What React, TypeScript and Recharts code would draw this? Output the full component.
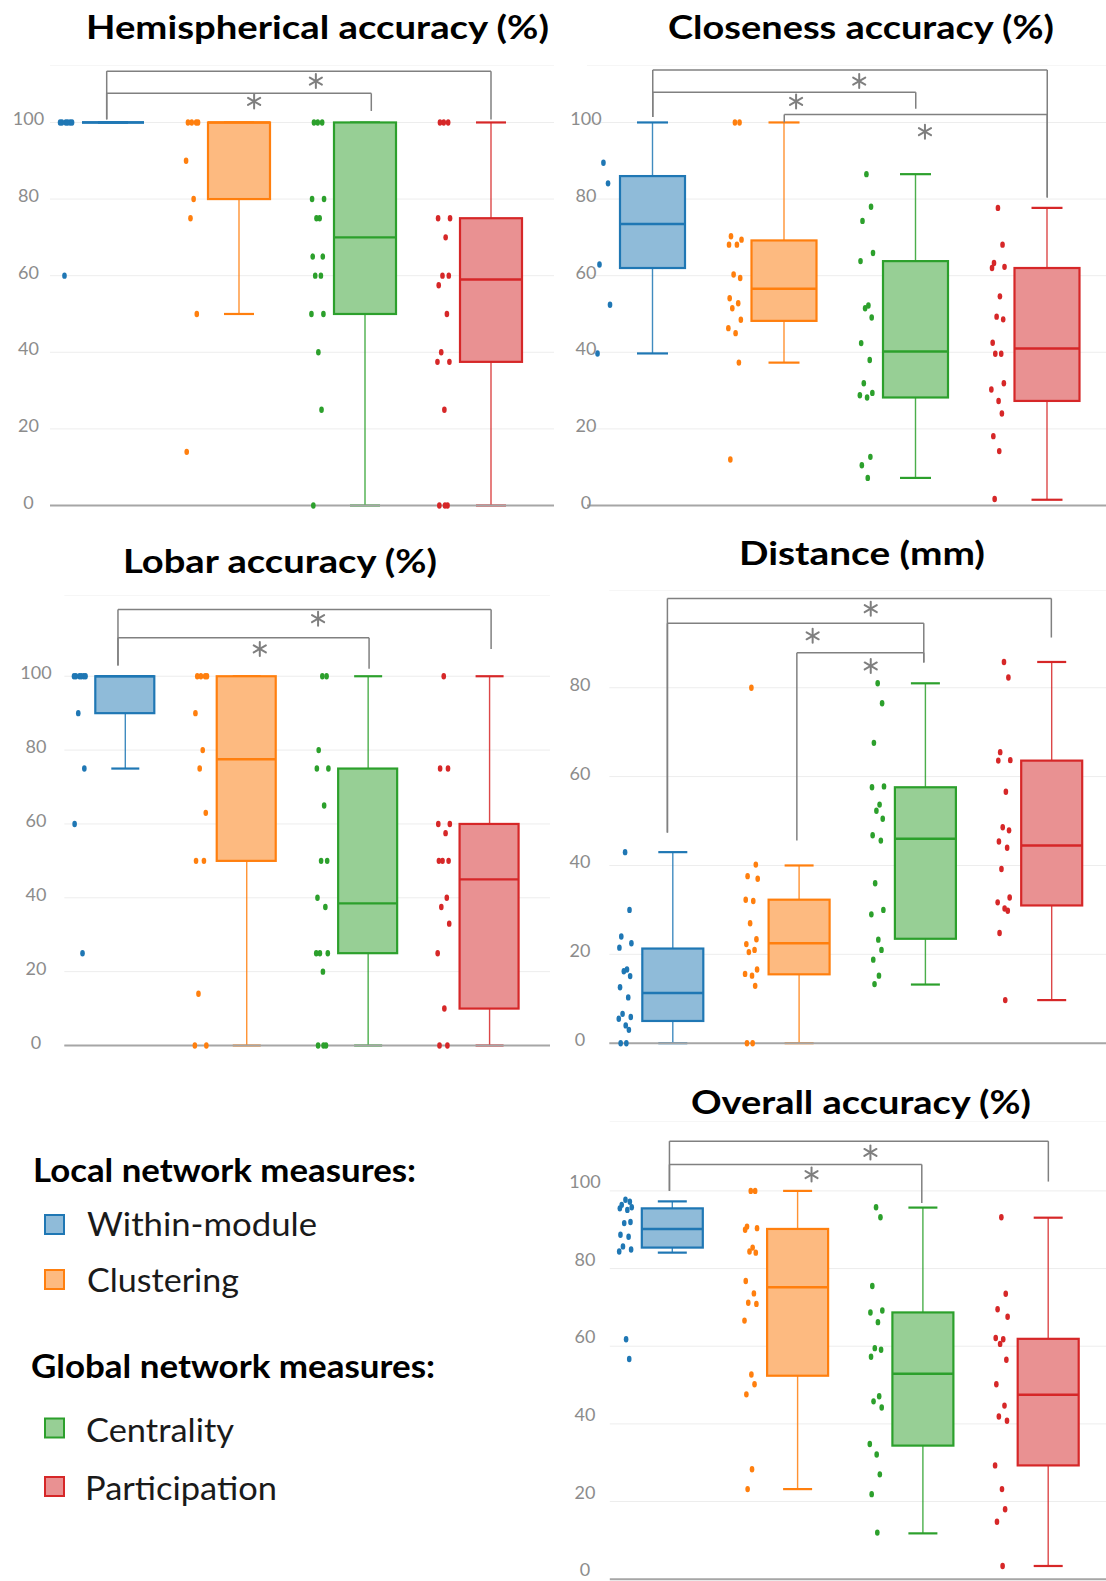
import React from "react";
import {
  ComposedChart,
  Bar,
  Scatter,
  XAxis,
  YAxis,
  CartesianGrid,
  ReferenceLine,
} from "recharts";

const GROUPS = ["Within-module", "Clustering", "Centrality", "Participation"];
const COLORS = ["#1f77b4", "#ff7f0e", "#2ca02c", "#d62728"];
const FILLS = ["#8fbbd9", "#fdba80", "#97cf95", "#e99192"];

// Hemispherical accuracy (%)
const hemiMin = [100, 50, 0, 0];
const hemiQ1 = [100, 80, 50, 37.5];
const hemiMed = [100, 100, 70, 59];
const hemiQ3 = [100, 100, 100, 75];
const hemiMax = [100, 100, 100, 100];
const hemiDots = [
  [100, 100, 100, 100, 100, 100, 60],
  [100, 100, 100, 100, 90, 80, 75, 50, 14],
  [100, 100, 100, 80, 80, 75, 75, 65, 65, 60, 60, 50, 50, 40, 25, 0],
  [100, 100, 100, 75, 75, 70, 60, 60, 57.5, 50, 40, 37.5, 37.5, 25, 0, 0, 0],
];
// [from group, to group, level, left leg end, right leg end]
const hemiBrackets = [
  [-0.05, 3, 113.4, 100.8, 100.8],
  [-0.05, 2.05, 107.6, 100.8, 103],
];
const hemiStars = [
  [1.61, 110.8],
  [1.12, 105.5],
];

// Closeness accuracy (%)
const closeMin = [39.7, 37.3, 7.2, 1.5];
const closeQ1 = [62, 48.2, 28.2, 27.3];
const closeMed = [73.5, 56.6, 40.2, 41];
const closeQ3 = [86, 69.2, 63.8, 62];
const closeMax = [100, 100, 86.5, 77.7];
const closeDots = [
  [89.5, 84.1, 62.9, 52.4, 39.7],
  [100, 100, 70.3, 69.4, 68.1, 68.1, 60.3, 59.4, 54.1, 52.8, 51.5, 48.5, 46.3, 45, 37.3, 12],
  [86.5, 78, 74.3, 65.9, 63.8, 52.2, 51.5, 49.1, 42.4, 38, 31.9, 29.4, 28.8, 28.2, 12.7, 10.5, 7.2],
  [77.7, 68.1, 63.3, 62.3, 62, 54.6, 49.3, 48.6, 42.5, 39.6, 39.6, 31.9, 30.3, 27.3, 24, 18.1, 14.2, 1.7],
];
const closeBrackets = [
  [0, 3, 113.7, 101.4, 80.4],
  [0, 2, 107.9, 101.4, 103.6],
  [1, 3, 102.1, 100, 80.4],
];
const closeStars = [
  [1.57, 110.8],
  [1.09, 105.5],
  [2.07, 97.6],
];

// Lobar accuracy (%)
const lobarMin = [75, 0, 0, 0];
const lobarQ1 = [90, 50, 25, 10];
const lobarMed = [100, 77.5, 38.5, 45];
const lobarQ3 = [100, 100, 75, 60];
const lobarMax = [100, 100, 100, 100];
const lobarDots = [
  [100, 100, 100, 100, 100, 100, 90, 75, 60, 25],
  [100, 100, 100, 100, 90, 80, 75, 63, 50, 50, 14, 0, 0],
  [100, 100, 80, 75, 75, 65, 50, 50, 40, 37.5, 25, 25, 25, 20, 0, 0, 0],
  [100, 75, 75, 60, 60, 57.5, 50, 50, 50, 40, 37.5, 33, 25, 10, 0, 0],
];
const lobarBrackets = [
  [-0.058, 3.015, 118.1, 102.9, 107.4],
  [-0.058, 2.01, 110.4, 102.9, 102],
];
const lobarStars = [
  [1.59, 115.6],
  [1.11, 107.4],
];

// Distance (mm)
const distMin = [0, 0, 13.2, 9.7];
const distQ1 = [5, 15.5, 23.5, 31];
const distMed = [11.3, 22.5, 46, 44.5];
const distQ3 = [21.3, 32.3, 57.6, 63.6];
const distMax = [43, 40, 81, 85.8];
const distDots = [
  [43, 30, 24, 22.5, 21.5, 16.6, 16.2, 15.1, 12.6, 10.3, 6.6, 5.9, 5.5, 4, 3, 0, 0],
  [80, 40.2, 37.6, 37, 32.3, 32, 27, 23.4, 22.3, 21, 20.5, 16.6, 15.6, 15.2, 12.9, 0, 0],
  [81, 76.5, 67.6, 57.8, 57.6, 53.7, 52.3, 50.5, 46.8, 45.6, 36, 30, 29, 23.3, 21, 18.8, 15.2, 13.3],
  [85.8, 82.3, 65.5, 63.7, 63.6, 56.6, 48.6, 47.9, 45.4, 44, 39.2, 32.8, 31.7, 30.3, 29.8, 24.8, 9.7],
];
const distBrackets = [
  [-0.04, 3, 100.1, 47.4, 91.3],
  [-0.04, 1.99, 94.5, 47.4, 85.7],
  [0.985, 1.99, 87.9, 45.6, 85.7],
];
const distStars = [
  [1.57, 97.8],
  [1.11, 91.7],
  [1.57, 84.9],
];

// Overall accuracy (%)
const overMin = [84.1, 23.2, 11.8, 3.4];
const overQ1 = [85.4, 52.4, 34.4, 29.3];
const overMed = [90.2, 75.2, 52.9, 47.5];
const overQ3 = [95.5, 90.2, 68.7, 61.9];
const overMax = [97.3, 100, 95.7, 93.1];
const overDots = [
  [97.7, 97.2, 96.4, 95.8, 95.5, 95.1, 91.7, 92, 88.7, 88.2, 85.7, 84.9, 84.4, 61.8, 56.7],
  [100, 100, 90.8, 90.4, 90, 85.4, 84.4, 84.1, 76.8, 73.6, 71.2, 70.9, 66.6, 52.7, 50.2, 47.6, 28.3, 23.2],
  [95.8, 93.2, 75.5, 69.2, 68.7, 66.2, 59.5, 59.1, 57.3, 47.1, 45.8, 44.2, 34.8, 32.1, 27, 21.9, 12],
  [93.2, 73.5, 69.5, 67.6, 62.1, 61.8, 60.6, 56.5, 50.2, 44.7, 41.9, 40.8, 29.3, 23.2, 18, 14.8, 3.4],
];
const overBrackets = [
  [-0.024, 3, 112.8, 100, 102.4],
  [-0.024, 1.99, 106.8, 100, 96.9],
];
const overStars = [
  [1.58, 109.9],
  [1.11, 104.2],
];

const pctTicks = [0, 20, 40, 60, 80, 100];
const mmTicks = [0, 20, 40, 60, 80];

// horizontal spread of the raw points, left of each box
const DOT_SHIFT = 0.375;
const JITTER = [0, 0.035, -0.03, 0.05, -0.045, 0.015, -0.01, 0.04, -0.04, 0.025, -0.02, 0.045, -0.05, 0.005, 0.03, -0.035, 0.01, -0.025];

const FONT = "Lato, 'Open Sans', sans-serif";
const BOTTOM = 14;

type Frame = {
  left: number; top: number; width: number; plotH: number;
  yw: number; labelX: number; labelDy: number; boxW: number;
};

function colorIndex(props: any) {
  const i = GROUPS.indexOf(props?.payload?.name);
  return i >= 0 ? i : props.index ?? 0;
}

function WhiskerShape(props: any) {
  const { x, y, width, height } = props;
  const i = colorIndex(props);
  const top = Math.min(y, y + height);
  const bot = Math.max(y, y + height);
  const cx = x + width / 2;
  return (
    <g>
      <line x1={cx} x2={cx} y1={top} y2={bot} stroke={COLORS[i]} strokeWidth={1.4} strokeOpacity={0.85} />
      <line x1={x} x2={x + width} y1={top} y2={top} stroke={COLORS[i]} strokeWidth={2.2} />
      <line x1={x} x2={x + width} y1={bot} y2={bot} stroke={COLORS[i]} strokeWidth={2.2} />
    </g>
  );
}

function BoxShape(props: any) {
  const { x, y, width, height } = props;
  const i = colorIndex(props);
  const top = Math.min(y, y + height);
  const h = Math.abs(height);
  if (h < 0.5)
    return <line x1={x} x2={x + width} y1={top} y2={top} stroke={COLORS[i]} strokeWidth={2.2} />;
  return <rect x={x} y={top} width={width} height={h} fill={FILLS[i]} stroke={COLORS[i]} strokeWidth={2.2} />;
}

function MedianShape(props: any) {
  const { x, y, width, height } = props;
  const i = colorIndex(props);
  const top = Math.min(y, y + height);
  return <line x1={x} x2={x + width} y1={top} y2={top} stroke={COLORS[i]} strokeWidth={2.4} />;
}

function StarShape(props: any) {
  const { cx, cy } = props;
  const r = 7;
  const s = r * Math.sin(Math.PI / 3);
  const c = r * Math.cos(Math.PI / 3);
  return (
    <g stroke="#7f7f7f" strokeWidth={2} strokeLinecap="round">
      <line x1={cx} x2={cx} y1={cy - r} y2={cy + r} />
      <line x1={cx - s} x2={cx + s} y1={cy - c} y2={cy + c} />
      <line x1={cx - s} x2={cx + s} y1={cy + c} y2={cy - c} />
    </g>
  );
}

function BoxPanel({
  min, q1, med, q3, max, dots, brackets, stars, ticks, yMax, f,
}: {
  min: number[]; q1: number[]; med: number[]; q3: number[]; max: number[];
  dots: number[][]; brackets: number[][]; stars: number[][]; ticks: number[]; yMax: number; f: Frame;
}) {
  const rows = GROUPS.map((name, i) => ({
    name,
    whisk: [min[i], max[i]],
    box: [q1[i], q3[i]],
    med: med[i],
  }));
  const starData = stars.map(([x, y]) => ({ x, y }));
  return (
    <div style={{ position: "absolute", left: f.left, top: f.top }}>
      <ComposedChart
        width={f.width}
        height={f.plotH + 1 + BOTTOM}
        data={rows}
        margin={{ top: 0, right: 0, bottom: BOTTOM, left: 0 }}
      >
        <CartesianGrid vertical={false} stroke="#ededed" strokeWidth={1} />
        <XAxis xAxisId="w" dataKey="name" type="category" hide />
        <XAxis xAxisId="b" dataKey="name" type="category" hide />
        <XAxis xAxisId="m" dataKey="name" type="category" hide />
        <XAxis
          dataKey="x"
          type="number"
          domain={[-0.5, 3.5]}
          height={1}
          tick={false}
          tickLine={false}
          axisLine={{ stroke: "#a6a6a6", strokeWidth: 2 }}
        />
        <YAxis
          type="number"
          domain={[0, yMax]}
          ticks={ticks}
          interval={0}
          width={f.yw}
          axisLine={false}
          tickLine={false}
          tick={(p: any) => (
            <text x={f.labelX} y={p.y} dy={f.labelDy} textAnchor="middle" fill="#8c8c8c" fontSize={18} fontFamily={FONT}>
              {String(p.payload.value)}
            </text>
          )}
        />
        {brackets.map(([x1, x2, y], k) => (
          <ReferenceLine key={"h" + k} segment={[{ x: x1, y }, { x: x2, y }]} stroke="#808080" strokeWidth={1.5} ifOverflow="visible" />
        ))}
        {brackets.map(([x1, , y, l1], k) => (
          <ReferenceLine key={"l" + k} segment={[{ x: x1, y }, { x: x1, y: l1 }]} stroke="#808080" strokeWidth={1.5} ifOverflow="visible" />
        ))}
        {brackets.map(([, x2, y, , l2], k) => (
          <ReferenceLine key={"r" + k} segment={[{ x: x2, y }, { x: x2, y: l2 }]} stroke="#808080" strokeWidth={1.5} ifOverflow="visible" />
        ))}
        <Bar xAxisId="w" dataKey="whisk" barSize={Math.round(f.boxW * 0.48)} shape={WhiskerShape} isAnimationActive={false} />
        <Bar xAxisId="b" dataKey="box" barSize={f.boxW} shape={BoxShape} isAnimationActive={false} />
        <Bar xAxisId="m" dataKey="med" barSize={f.boxW} shape={MedianShape} isAnimationActive={false} />
        {dots.map((vals, i) => (
          <Scatter
            key={"d" + i}
            data={vals.map((v, k) => ({ x: i - DOT_SHIFT + JITTER[k % JITTER.length], y: v }))}
            dataKey="y"
            isAnimationActive={false}
            shape={(p: any) => <ellipse cx={p.cx} cy={p.cy} rx={2.3} ry={3.2} fill={COLORS[i]} />}
          />
        ))}
        <Scatter data={starData} dataKey="y" isAnimationActive={false} shape={StarShape} />
      </ComposedChart>
    </div>
  );
}

const F1: Frame = { left: 0, top: 64.5, width: 554, plotH: 440.5, yw: 50, labelX: 28.5, labelDy: 3, boxW: 62 };
const F2: Frame = { left: 560, top: 64.5, width: 553, plotH: 440.5, yw: 27, labelX: 26, labelDy: 3, boxW: 65 };
const F3: Frame = { left: 0, top: 594.5, width: 550, plotH: 450.5, yw: 64.3, labelX: 36, labelDy: 3, boxW: 59 };
const F4: Frame = { left: 560, top: 589.5, width: 554.5, plotH: 453.2, yw: 49.3, labelX: 20, labelDy: 3, boxW: 61 };
const F5: Frame = { left: 560, top: 1121.1, width: 551, plotH: 458.2, yw: 49.8, labelX: 25, labelDy: -3, boxW: 61 };

function Label({ x, y, w, text, bold, size = 33 }: { x: number; y: number; w: number; text: string; bold?: boolean; size?: number }) {
  return (
    <text
      x={x}
      y={y}
      textLength={w}
      lengthAdjust="spacingAndGlyphs"
      fontFamily={FONT}
      fontWeight={bold ? 700 : 400}
      fontSize={size}
      fill={bold ? "#000" : "#1a1a1a"}
    >
      {text}
    </text>
  );
}

export default function App() {
  return (
    <div style={{ position: "absolute", left: 0, top: 0, width: 1106, height: 1581, overflow: "hidden", background: "#fff" }}>
      <svg width={1106} height={1581} style={{ position: "absolute", left: 0, top: 0 }}>
        <Label x={86} y={38.5} w={463} text="Hemispherical accuracy (%)" bold />
        <Label x={668} y={38.5} w={386} text="Closeness accuracy (%)" bold />
        <Label x={123} y={572.5} w={314} text="Lobar accuracy (%)" bold />
        <Label x={739} y={564.5} w={246} text="Distance (mm)" bold />
        <Label x={691} y={1114} w={340} text="Overall accuracy (%)" bold />

        <Label x={33} y={1181.5} w={383} text="Local network measures:" bold />
        <Label x={31} y={1378} w={404} text="Global network measures:" bold />
        {[1215, 1270, 1418.5, 1477].map((y, i) => (
          <rect key={i} x={45} y={y} width={19} height={19} fill={FILLS[i]} stroke={COLORS[i]} strokeWidth={2} />
        ))}
        <Label x={87} y={1236} w={230} text={GROUPS[0]} />
        <Label x={87} y={1291.5} w={152} text={GROUPS[1]} />
        <Label x={86} y={1441.5} w={148} text={GROUPS[2]} />
        <Label x={85} y={1500} w={192} text={GROUPS[3]} />
      </svg>

      <BoxPanel min={hemiMin} q1={hemiQ1} med={hemiMed} q3={hemiQ3} max={hemiMax} dots={hemiDots}
        brackets={hemiBrackets} stars={hemiStars} ticks={pctTicks} yMax={115} f={F1} />
      <BoxPanel min={closeMin} q1={closeQ1} med={closeMed} q3={closeQ3} max={closeMax} dots={closeDots}
        brackets={closeBrackets} stars={closeStars} ticks={pctTicks} yMax={115} f={F2} />
      <BoxPanel min={lobarMin} q1={lobarQ1} med={lobarMed} q3={lobarQ3} max={lobarMax} dots={lobarDots}
        brackets={lobarBrackets} stars={lobarStars} ticks={pctTicks} yMax={122} f={F3} />
      <BoxPanel min={distMin} q1={distQ1} med={distMed} q3={distQ3} max={distMax} dots={distDots}
        brackets={distBrackets} stars={distStars} ticks={mmTicks} yMax={102} f={F4} />
      <BoxPanel min={overMin} q1={overQ1} med={overMed} q3={overQ3} max={overMax} dots={overDots}
        brackets={overBrackets} stars={overStars} ticks={pctTicks} yMax={118} f={F5} />
    </div>
  );
}
